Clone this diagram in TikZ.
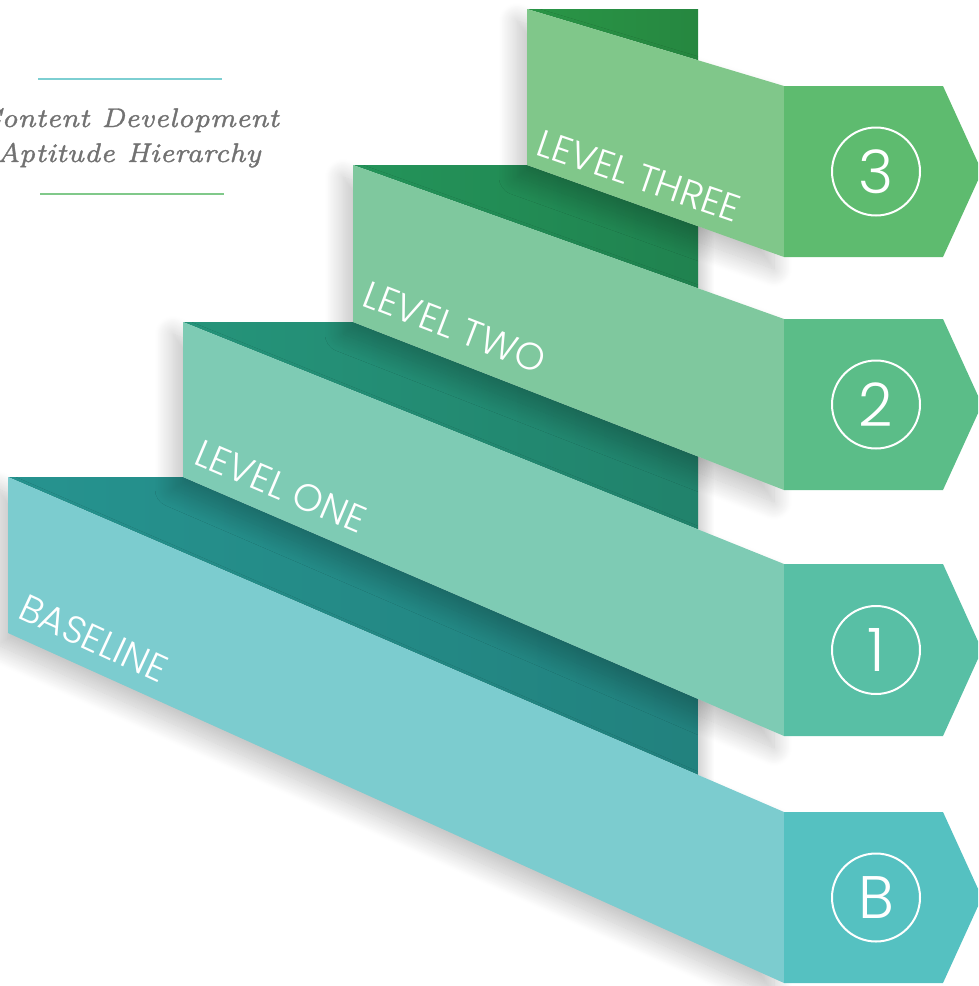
\documentclass[tikz,border=0pt]{standalone}
\usepackage{fontspec}
\usetikzlibrary{shadows.blur,fadings}

\newfontfamily\levelfont{Poppins Light}
\newfontfamily\headfont{lmroman7-italic.otf}[FakeBold=1.3]

\definecolor{tabB}{HTML}{55C1C1}
\definecolor{faceB}{HTML}{7CCCCF}
\definecolor{treadB}{HTML}{26938F}
\definecolor{tabA}{HTML}{58BFA5}
\definecolor{faceA}{HTML}{7ECBB4}
\definecolor{treadA}{HTML}{25947A}
\definecolor{tabC}{HTML}{5BBD88}
\definecolor{faceC}{HTML}{7FC89E}
\definecolor{treadC}{HTML}{24945A}
\definecolor{tabD}{HTML}{5EBB6F}
\definecolor{faceD}{HTML}{80C78A}
\definecolor{treadD}{HTML}{2A9647}
\definecolor{titlegray}{HTML}{727272}
\definecolor{ruleteal}{HTML}{7DCFD2}
\definecolor{rulegreen}{HTML}{80C98A}

\tikzset{stepface/.style = {blur shadow={shadow xshift=-10pt, shadow yshift=-12pt, shadow blur radius=18pt, shadow blur steps=24, shadow opacity=24}}}
\tikzset{wallshade/.style = {black, fill opacity=.16, path fading=east}}
\tikzset{steplabel/.style = {text=white, anchor=base west, inner sep=0pt, font=\levelfont\fontsize{38}{38}\selectfont}}
\tikzset{badge/.style = {circle, draw=white, line width=2pt, minimum size=88pt, inner sep=0pt, text=white, font=\levelfont\fontsize{60}{60}\selectfont}}
\tikzset{headline/.style = {text=titlegray, anchor=base, inner sep=0pt, font=\headfont\fontsize{27}{35}\selectfont}}

\begin{document}
\begin{tikzpicture}[x=1pt, y=-1pt]
	\useasboundingbox (0,0) rectangle (978,986);
	\clip (0,0) rectangle (978,986);

	% title
	\draw[ruleteal, line width=2.5pt] (38,79) -- (222,79);
	\node[headline] (headA) at (129,127) {Content Development};
	\node[headline] (headB) at (129,162) {Aptitude Hierarchy};
	\draw[rulegreen, line width=2.5pt] (40,194) -- (224,194);

	% treads
	\shade[left color=treadD, right color=treadD!90!black] (527,9) -- (698,9) -- (698,60.2) -- cycle;
	\shade[left color=treadC, right color=treadC!88!black] (353,165) -- (527,165) -- (698,226.2) -- (698,288.3) -- cycle;
	\shade[left color=treadA, right color=treadA!88!black] (183,322) -- (353,322) -- (698,456.5) -- (698,529.4) -- cycle;
	\shade[left color=treadB, right color=treadB!88!black] (8,477) -- (183,477) -- (698,698.9) -- (698,774.9) -- cycle;

	% shade next to the back wall
	\fill[wallshade] (698,226.2) -- (714,231.9) -- (714,294) -- (698,288.3) -- cycle;
	\fill[wallshade] (698,456.5) -- (714,462.7) -- (714,535.8) -- (698,529.4) -- cycle;
	\fill[wallshade] (698,698.9) -- (714,705.8) -- (714,781.8) -- (698,774.9) -- cycle;

	% faces
	\fill[faceD, stepface] (527,9) -- (784,86) -- (784,257) -- (527,165) -- cycle;
	\fill[faceC, stepface] (353,165) -- (784,319) -- (784,490) -- (353,322) -- cycle;
	\fill[faceA, stepface] (183,322) -- (784,564) -- (784,736) -- (183,477) -- cycle;
	\fill[faceB, stepface] (8,477) -- (784,812) -- (784,983) -- (8,633) -- cycle;

	% tabs
	\fill[tabD] (784,86) -- (943,86) -- (982,171.5) -- (943,257) -- (784,257) -- cycle;
	\fill[tabC] (784,319) -- (943,319) -- (982,404.5) -- (943,490) -- (784,490) -- cycle;
	\fill[tabA] (784,564) -- (943,564) -- (982,650) -- (943,736) -- (784,736) -- cycle;
	\fill[tabB] (784,812) -- (943,812) -- (982,897.5) -- (943,983) -- (784,983) -- cycle;

	% labels
	\node[steplabel, rotate=-19] (three) at (534,154) {LEVEL THREE};
	\node[steplabel, rotate=-21] (two) at (360,305) {LEVEL TWO};
	\node[steplabel, rotate=-23] (one) at (192,463) {LEVEL ONE};
	\node[steplabel, rotate=-24.8] (base) at (16,617) {BASELINE};

	% badges
	\node[badge] (n3) at (876,171.5) {3};
	\node[badge] (n2) at (876,404.5) {2};
	\node[badge] (n1) at (876,650) {1};
	\node[badge] (nB) at (876,897.5) {B};
\end{tikzpicture}
\end{document}
